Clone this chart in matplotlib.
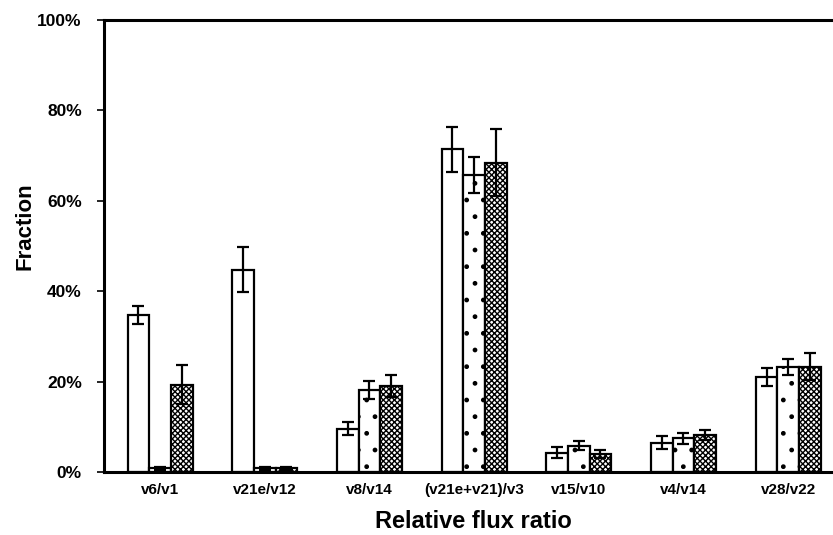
import matplotlib
matplotlib.use("Agg")
import matplotlib.pyplot as plt
import numpy as np

plt.rcParams["font.family"] = ["Liberation Sans", "DejaVu Sans"]
plt.rcParams["font.weight"] = "bold"
plt.rcParams["hatch.linewidth"] = 1.0

# data (fractions in %)
categories = ["v6/v1", "v21e/v12", "v8/v14", "(v21e+v21)/v3",
              "v15/v10", "v4/v14", "v28/v22"]
series_a = [34.8, 44.8, 9.6, 71.4, 4.3, 6.5, 21.0]
series_a_err = [2.0, 4.9, 1.5, 5.0, 1.2, 1.5, 2.0]
series_b = [0.8, 0.8, 18.2, 65.7, 5.8, 7.5, 23.2]
series_b_err = [0.4, 0.4, 2.0, 3.9, 1.0, 1.2, 1.8]
series_c = [19.3, 0.8, 19.0, 68.4, 3.9, 8.2, 23.3]
series_c_err = [4.3, 0.4, 2.5, 7.4, 0.9, 1.1, 3.0]
yticks = [0, 20, 40, 60, 80, 100]

W, H = 833, 535
fig = plt.figure(figsize=(W / 100, H / 100), dpi=100, facecolor="white")
ax = fig.add_axes([104 / W, 63 / H, (W - 104) / W, 452 / H])

x = np.arange(len(categories))
bw = 0.207
styles = [
    (series_a, series_a_err, ""),
    (series_b, series_b_err, "."),
    (series_c, series_c_err, "xxxxxx"),
]
for i, (vals, errs, hatch) in enumerate(styles):
    ax.bar(x + (i - 1) * bw, vals, width=bw, facecolor="white",
           edgecolor="black", linewidth=1.6, hatch=hatch, zorder=2)
    ax.errorbar(x + (i - 1) * bw, vals, yerr=errs, fmt="none",
                ecolor="black", elinewidth=1.6, capsize=4.5,
                capthick=1.6, zorder=3)

ax.set_xlim(-0.535, 6.428)
ax.set_ylim(0, 100)
ax.set_yticks(yticks)
ax.set_yticklabels([f"{v}%" for v in yticks], fontsize=12.5, fontweight="bold")
ax.set_xticks(x)
ax.set_xticklabels(categories, fontsize=11, fontweight="bold")
ax.tick_params(axis="x", length=0, pad=8)
ax.tick_params(axis="y", direction="out", length=5, width=1.2, pad=11)

for side in ("left", "top", "bottom"):
    ax.spines[side].set_linewidth(2.2)
ax.spines["right"].set_visible(False)

ax.set_xlabel("Relative flux ratio", fontsize=17, fontweight="bold")
ax.xaxis.set_label_coords((473 - 104) / (W - 104), -(522 - 472) / 452)
ax.xaxis.label.set_va("center")
ax.set_ylabel("Fraction", fontsize=16, fontweight="bold")
ax.yaxis.set_label_coords((25 - 104) / (W - 104), (472 - 226) / 452)
ax.yaxis.label.set_va("center")

fig.savefig("out.png", dpi=100, facecolor="white")
